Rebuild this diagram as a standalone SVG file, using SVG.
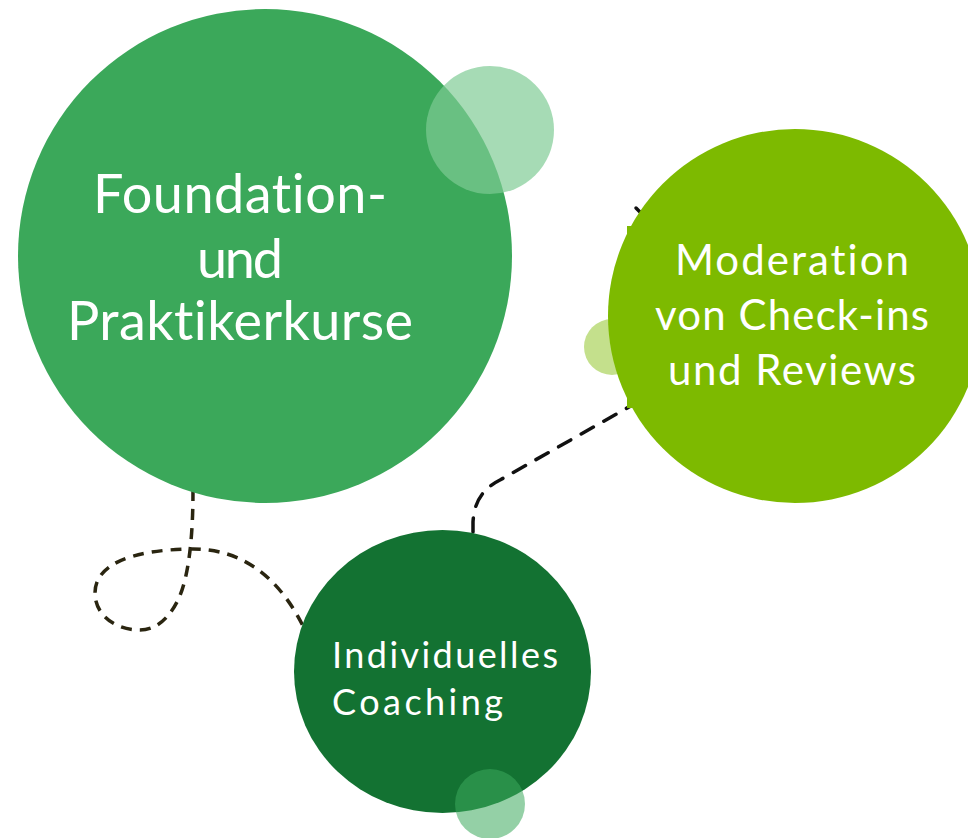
<svg xmlns="http://www.w3.org/2000/svg" width="968" height="838" viewBox="0 0 968 838">
  <style>
    .label { font-family: "Lato", "Open Sans", "Liberation Sans", sans-serif; fill: #ffffff; font-variant-ligatures: none; }
    .dash-loop { fill: none; stroke: #2a2510; stroke-width: 3.5; stroke-dasharray: 11 8; }
    .dash-link { fill: none; stroke: #111111; stroke-width: 3.5; stroke-linecap: round; stroke-dasharray: 14 12; }
  </style>
  <rect width="968" height="838" fill="#ffffff"/>

  <!-- dashed connectors, drawn beneath the circles -->
  <g id="connectors">
    <path class="dash-loop" d="M193,490 C193,530 190,575 178,600 C168,620 155,630 140,630 C115,630 95,615 95,593 C95,565 130,550 190,549 C235,548 275,570 303,626"/>
    <path class="dash-link" d="M473,532 L473,522 C474,505 480,490 500,480 L620,412 L650,395 L700,300 L660,225"/>
    <path fill="none" stroke="#111111" stroke-width="3.5" stroke-linecap="round" d="M636,208 L641,213"/>
  </g>

  <g id="node-foundation">
    <circle cx="265" cy="256" r="247" fill="#3ba85a"/>
    <circle cx="490" cy="130" r="64" fill="#7ecb94" fill-opacity="0.69"/>
    <text class="label" font-size="54" text-anchor="middle">
      <tspan x="240" y="213" textLength="294" lengthAdjust="spacing">Foundation-</tspan>
    </text>
    <text class="label" font-size="54" text-anchor="middle">
      <tspan x="240" y="278" textLength="86" lengthAdjust="spacing">und</tspan>
    </text>
    <text class="label" font-size="54" text-anchor="middle">
      <tspan x="240" y="340" textLength="346" lengthAdjust="spacing">Praktikerkurse</tspan>
    </text>
  </g>

  <g id="node-moderation">
    <circle cx="612" cy="347" r="28" fill="#7dba00" fill-opacity="0.45"/>
    <circle cx="795" cy="316" r="187" fill="#7dba00"/>
    <rect x="627" y="226" width="200" height="182" fill="#7dba00"/>
    <text class="label" font-size="42" text-anchor="middle">
      <tspan x="792" y="275" textLength="234" lengthAdjust="spacing">Moderation</tspan>
    </text>
    <text class="label" font-size="42" text-anchor="middle">
      <tspan x="792" y="330" textLength="274" lengthAdjust="spacing">von Check-ins</tspan>
    </text>
    <text class="label" font-size="42" text-anchor="middle">
      <tspan x="792" y="385" textLength="248" lengthAdjust="spacing">und Reviews</tspan>
    </text>
  </g>

  <g id="node-coaching">
    <ellipse cx="442.5" cy="671.5" rx="148.5" ry="141.5" fill="#137232"/>
    <circle cx="490" cy="804" r="35" fill="#3caa5d" fill-opacity="0.55"/>
    <text class="label" font-size="36">
      <tspan x="332" y="668" textLength="226" lengthAdjust="spacing">Individuelles</tspan>
    </text>
    <text class="label" font-size="36">
      <tspan x="332" y="715" textLength="171" lengthAdjust="spacing">Coaching</tspan>
    </text>
  </g>
</svg>
